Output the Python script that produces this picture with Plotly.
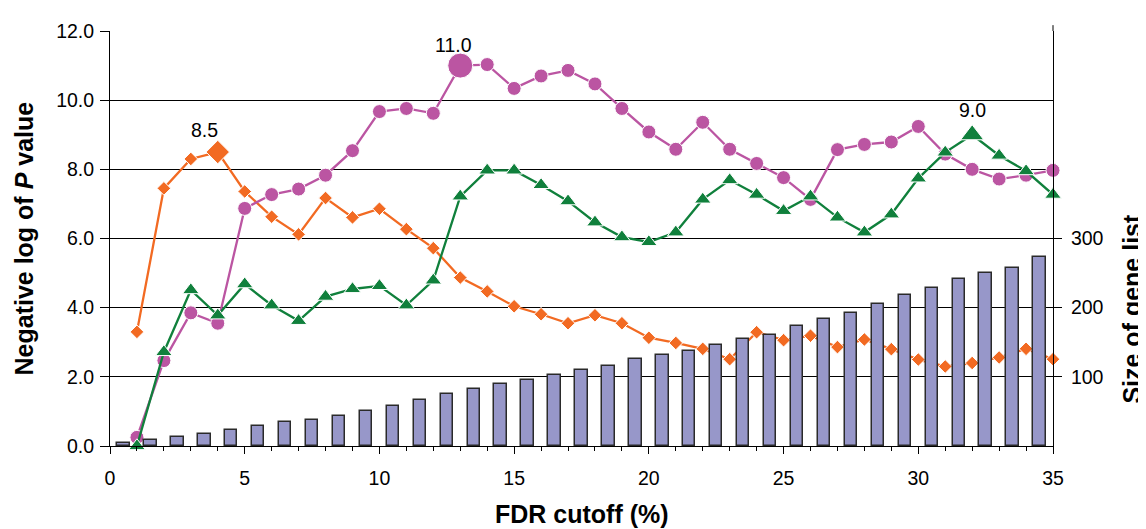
import plotly.graph_objects as go

# ---- data ----
fdr_cutoff = list(range(1, 36))
series_orange = [3.30, 7.45, 8.30, 8.50, 7.36, 6.63, 6.12, 7.17, 6.61, 6.86, 6.27, 5.72,
                 4.87, 4.47, 4.04, 3.81, 3.55, 3.78, 3.55, 3.13, 2.98, 2.81, 2.51, 3.29,
                 3.06, 3.19, 2.86, 3.08, 2.80, 2.50, 2.30, 2.40, 2.56, 2.81, 2.51]
series_magenta = [0.25, 2.47, 3.85, 3.55, 6.87, 7.27, 7.43, 7.83, 8.54, 9.67, 9.76, 9.62,
                  11.0, 11.03, 10.34, 10.70, 10.86, 10.47, 9.76, 9.08, 8.58, 9.36, 8.58, 8.17,
                  7.76, 7.13, 8.57, 8.72, 8.79, 9.24, 8.44, 8.00, 7.72, 7.83, 7.97]
series_green = [0.0, 2.72, 4.51, 3.78, 4.68, 4.07, 3.62, 4.32, 4.54, 4.63, 4.07, 4.79,
                7.22, 7.97, 7.97, 7.55, 7.08, 6.47, 6.04, 5.90, 6.18, 7.13, 7.69, 7.27,
                6.80, 7.22, 6.61, 6.18, 6.70, 7.74, 8.49, 9.0, 8.40, 7.95, 7.27]
gene_list_size = [5, 9, 13, 17, 23, 29, 34, 38, 44, 50, 58, 66, 75, 83, 89, 96, 102, 110,
                  115, 126, 132, 137, 146, 155, 160, 174, 184, 193, 206, 218, 228, 241, 250,
                  257, 273]
peak_orange = 4
peak_magenta = 13
peak_green = 32

x_ticks = [0, 5, 10, 15, 20, 25, 30, 35]
y_ticks = [0, 2, 4, 6, 8, 10, 12]
y2_ticks = [100, 200, 300]

ORANGE = "#F26A22"
MAGENTA = "#BB55A2"
GREEN = "#10803C"
BAR = "#9797C9"
FONT = "Liberation Sans, Arial, sans-serif"
TICK_SIZE = 19.5

fig = go.Figure()


def sizes(peak, normal, big):
    return [big if x == peak else normal for x in fdr_cutoff]


fig.add_trace(go.Scatter(x=fdr_cutoff, y=series_orange, mode="lines+markers",
                         line=dict(color=ORANGE, width=2.3),
                         marker=dict(symbol="diamond", color=ORANGE, opacity=1,
                                     size=sizes(peak_orange, 10.5, 18)),
                         cliponaxis=False, yaxis="y"))
fig.add_trace(go.Scatter(x=fdr_cutoff, y=series_magenta, mode="lines+markers",
                         line=dict(color=MAGENTA, width=2.3),
                         marker=dict(symbol="circle", color=MAGENTA, opacity=1,
                                     size=sizes(peak_magenta, 14, 25)),
                         cliponaxis=False, yaxis="y"))
fig.add_trace(go.Scatter(x=fdr_cutoff, y=series_green, mode="lines+markers",
                         line=dict(color=GREEN, width=2.3),
                         marker=dict(symbol="triangle-up", color=GREEN, opacity=1,
                                     size=sizes(peak_green, 14.5, 20)),
                         cliponaxis=False, yaxis="y"))
fig.add_trace(go.Bar(x=fdr_cutoff, y=gene_list_size, width=0.46, offset=-0.73,
                     marker=dict(color=BAR, line=dict(color="#2a2a2a", width=1.5)),
                     yaxis="y2"))

annos = []
for px, series, xs, ys in [(peak_orange, series_orange, -13, 22),
                           (peak_magenta, series_magenta, -7, 21),
                           (peak_green, series_green, 0, 25)]:
    v = series[px - 1]
    annos.append(dict(x=px, y=v, xref="x", yref="y", text=f"{v:.1f}", showarrow=False,
                      xshift=xs, yshift=ys,
                      font=dict(size=TICK_SIZE, color="black", family=FONT)))

annos.append(dict(x=0.5, y=-0.164, xref="paper", yref="paper", text="<b>FDR cutoff (%)</b>",
                  showarrow=False, xanchor="center", yanchor="middle",
                  font=dict(size=25, color="black", family=FONT)))
annos.append(dict(x=(23 - 110) / 943, y=0.5, xref="paper", yref="paper",
                  text="<b>Negative log of <i>P</i> value</b>", textangle=-90,
                  showarrow=False, xanchor="center", yanchor="middle",
                  font=dict(size=25, color="black", family=FONT)))
annos.append(dict(x=(1132 - 110) / 943, y=(445.7 - 305) / 425, xref="paper", yref="paper",
                  text="<b>Size of gene list</b>", textangle=-90,
                  showarrow=False, xanchor="center", yanchor="middle",
                  font=dict(size=25, color="black", family=FONT)))

# the page body adds an 8px offset, so the figure is 8px smaller on the left/top
fig.update_layout(
    width=1138, height=521,
    margin=dict(l=102, r=93, t=13, b=83),
    paper_bgcolor="white", plot_bgcolor="white",
    showlegend=False,
    font=dict(family=FONT, size=TICK_SIZE, color="black"),
    xaxis=dict(range=[0, 35], tickvals=x_ticks, ticks="outside", ticklen=7, tickwidth=1,
               tickcolor="black", showline=True, linecolor="black", linewidth=1,
               showgrid=False, zeroline=False, ticklabelstandoff=8,
               minor=dict(dtick=1, ticks="outside", ticklen=4, tickcolor="black",
                          showgrid=False),
               tickfont=dict(size=TICK_SIZE)),
    yaxis=dict(range=[0, 12], tickvals=y_ticks, tickformat=".1f", ticks="outside",
               ticklen=9, tickwidth=1, tickcolor="black", showline=True, linecolor="black",
               linewidth=1, showgrid=True, gridcolor="black", gridwidth=1,
               zeroline=False, ticklabelstandoff=2, tickfont=dict(size=TICK_SIZE)),
    yaxis2=dict(range=[0, 600], tickvals=y2_ticks, overlaying="y", side="right",
                ticks="outside", ticklen=8, tickwidth=1, tickcolor="black",
                showline=True, linecolor="black", linewidth=1, showgrid=False,
                zeroline=False, ticklabelstandoff=5, tickfont=dict(size=TICK_SIZE)),
    annotations=annos,
    shapes=[dict(type="line", xref="paper", yref="paper", x0=1, x1=1, y0=1,
                 y1=1 + 6 / 425, line=dict(color="black", width=1))],
    bargap=0,
)

fig.write_html("out.html")
